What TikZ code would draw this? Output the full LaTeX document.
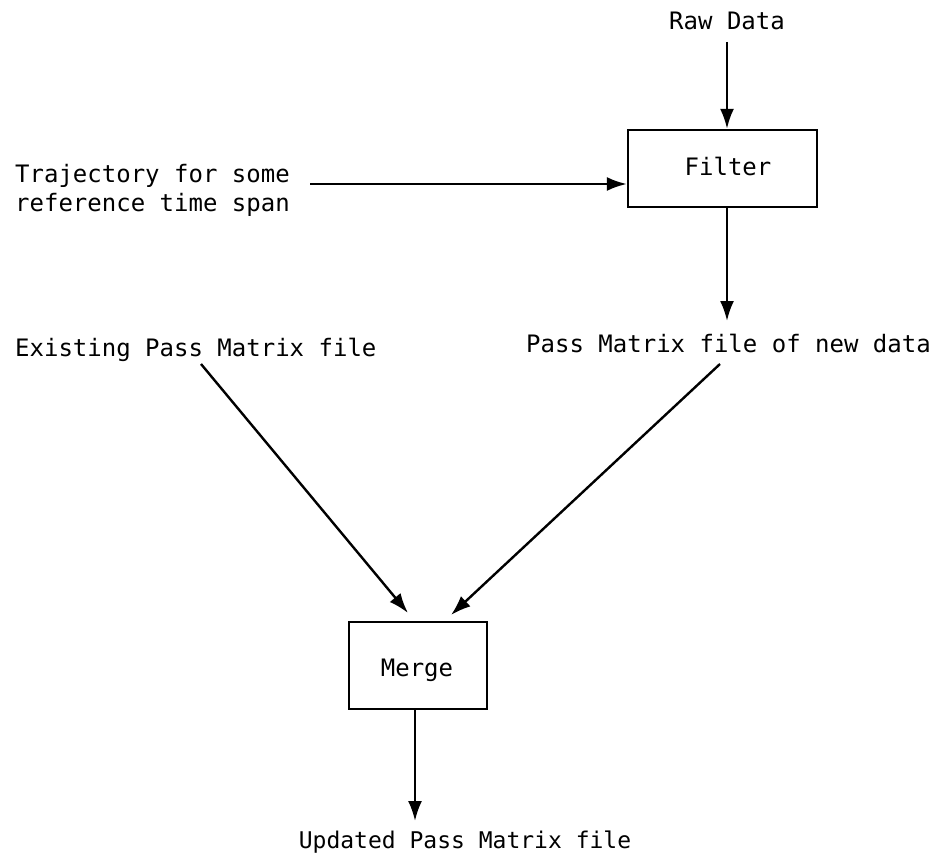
\documentclass[tikz,border=0pt]{standalone}
\usepackage{fontspec}
\setmonofont{DejaVu Sans Mono}
\usetikzlibrary{arrows.meta}
\begin{document}
\begin{tikzpicture}[x=1pt,y=-1pt,
  lbl/.style={font=\ttfamily\fontsize{24}{29}\selectfont, inner sep=0pt},
  procbox/.style={draw, line width=2.4pt, inner sep=0pt},
  flow/.style={line width=2.4pt, -{Latex[length=20pt,width=14pt]}}]
\useasboundingbox (0,0) rectangle (942,861);
% labels
\node[lbl, anchor=base] (raw) at (727,30) {Raw Data};
\node[procbox, minimum width=189pt, minimum height=77pt] (filter) at (722.5,168.5) {};
\node[lbl, anchor=base] (filtertxt) at (728,176) {Filter};
\node[lbl, anchor=west, align=left] (traj) at (15,190) {Trajectory for some\\reference time span};
\node[lbl, anchor=base] (newdata) at (728.5,352) {Pass Matrix file of new data};
\node[lbl, anchor=base west] (exist) at (15,356) {Existing Pass Matrix file};
\node[procbox, minimum width=138pt, minimum height=87pt] (merge) at (418,665.5) {};
\node[lbl, anchor=base] (mergetxt) at (417,676) {Merge};
\node[lbl, anchor=base, font=\ttfamily\fontsize{23}{27}\selectfont] (updated) at (465,848) {Updated Pass Matrix file};
% connector ends
\coordinate (rawend) at (727,42);
\coordinate (trajend) at (310,184);
\coordinate (exend) at (201,364);
\coordinate (exin) at (408,613);
\coordinate (ndend) at (720,364);
\coordinate (ndin) at (451,615);
\coordinate (filterout) at (727,207);
\coordinate (ndtop) at (727,321);
\coordinate (mergeout) at (415,709);
\coordinate (updtop) at (415,821);
% connectors
\draw[flow] (rawend) -- (filter.north -| rawend);
\draw[flow] (trajend) -- (filter.west |- trajend);
\draw[flow] (filterout) -- (ndtop);
\draw[flow] (exend) -- (exin);
\draw[flow] (ndend) -- (ndin);
\draw[flow] (mergeout) -- (updtop);
\end{tikzpicture}
\end{document}
